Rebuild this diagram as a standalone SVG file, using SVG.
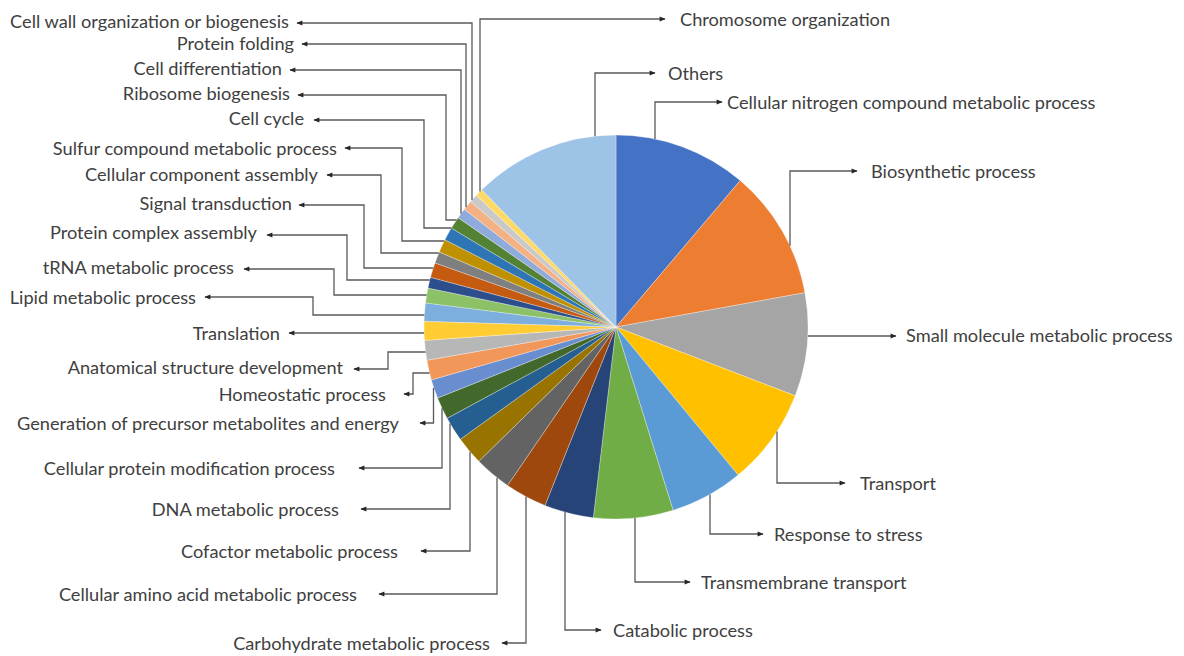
<svg xmlns="http://www.w3.org/2000/svg" width="1184" height="656" viewBox="0 0 1184 656">
<style>
.t{font-family:Lato,"Liberation Sans",sans-serif;font-size:18.2px;fill:#404040}
.l{text-anchor:end}
.s{stroke:#ffffff;stroke-width:0.5;stroke-opacity:0.6}
.c{fill:none;stroke:#595959;stroke-width:1.3;marker-end:url(#arr)}
</style>
<defs>
<marker id="arr" viewBox="0 0 10 10" refX="9" refY="5" markerWidth="7" markerHeight="6" markerUnits="userSpaceOnUse" orient="auto"><path d="M0,1 L10,5 L0,9 Z" fill="#262626"/></marker>
</defs>
<rect width="1184" height="656" fill="#ffffff"/>
<g id="pie">
<g id="n-nitrogen"><path class="s" fill="#4472C4" d="M616,327 L616,135 A192,192 0 0 1 740.2,180.6 Z"/><text class="t" x="727" y="108.5">Cellular nitrogen compound metabolic process</text></g>
<g id="n-biosynthetic"><path class="s" fill="#ED7D31" d="M616,327 L740.2,180.6 A192,192 0 0 1 804.9,292.7 Z"/><text class="t" x="871" y="177.5">Biosynthetic process</text></g>
<g id="n-smallmolecule"><path class="s" fill="#A5A5A5" d="M616,327 L804.9,292.7 A192,192 0 0 1 795.2,395.8 Z"/><text class="t" x="906" y="341.5">Small molecule metabolic process</text></g>
<g id="n-transport"><path class="s" fill="#FFC000" d="M616,327 L795.2,395.8 A192,192 0 0 1 738.1,475.1 Z"/><text class="t" x="860" y="489.5">Transport</text></g>
<g id="n-stress"><path class="s" fill="#5B9BD5" d="M616,327 L738.1,475.1 A192,192 0 0 1 673.1,510.3 Z"/><text class="t" x="774" y="540.5">Response to stress</text></g>
<g id="n-transmembrane"><path class="s" fill="#70AD47" d="M616,327 L673.1,510.3 A192,192 0 0 1 593.3,517.7 Z"/><text class="t" x="701" y="588.5">Transmembrane transport</text></g>
<g id="n-catabolic"><path class="s" fill="#264478" d="M616,327 L593.3,517.7 A192,192 0 0 1 545.0,505.4 Z"/><text class="t" x="613" y="636.5">Catabolic process</text></g>
<g id="n-carbohydrate"><path class="s" fill="#9E480E" d="M616,327 L545.0,505.4 A192,192 0 0 1 507.5,485.4 Z"/><text class="t l" x="490" y="649.5">Carbohydrate metabolic process</text></g>
<g id="n-aminoacid"><path class="s" fill="#636363" d="M616,327 L507.5,485.4 A192,192 0 0 1 478.8,461.3 Z"/><text class="t l" x="357" y="600.5">Cellular amino acid metabolic process</text></g>
<g id="n-cofactor"><path class="s" fill="#997300" d="M616,327 L478.8,461.3 A192,192 0 0 1 460.3,439.3 Z"/><text class="t l" x="398" y="557.5">Cofactor metabolic process</text></g>
<g id="n-dna"><path class="s" fill="#255E91" d="M616,327 L460.3,439.3 A192,192 0 0 1 447.1,418.3 Z"/><text class="t l" x="339" y="515.5">DNA metabolic process</text></g>
<g id="n-proteinmod"><path class="s" fill="#43682B" d="M616,327 L447.1,418.3 A192,192 0 0 1 437.6,398.0 Z"/><text class="t l" x="335" y="474.5">Cellular protein modification process</text></g>
<g id="n-generation"><path class="s" fill="#698ED0" d="M616,327 L437.6,398.0 A192,192 0 0 1 431.4,379.9 Z"/><text class="t l" x="399" y="429.5">Generation of precursor metabolites and energy</text></g>
<g id="n-homeostatic"><path class="s" fill="#F1975A" d="M616,327 L431.4,379.9 A192,192 0 0 1 426.9,360.3 Z"/><text class="t l" x="386" y="400.5">Homeostatic process</text></g>
<g id="n-anatomical"><path class="s" fill="#B7B7B7" d="M616,327 L426.9,360.3 A192,192 0 0 1 424.5,340.4 Z"/><text class="t l" x="343" y="373.5">Anatomical structure development</text></g>
<g id="n-translation"><path class="s" fill="#FFCD33" d="M616,327 L424.5,340.4 A192,192 0 0 1 424.1,321.3 Z"/><text class="t l" x="280" y="339.5">Translation</text></g>
<g id="n-lipid"><path class="s" fill="#7CAFDD" d="M616,327 L424.1,321.3 A192,192 0 0 1 425.5,302.9 Z"/><text class="t l" x="196" y="303.5">Lipid metabolic process</text></g>
<g id="n-trna"><path class="s" fill="#8CC168" d="M616,327 L425.5,302.9 A192,192 0 0 1 428.0,288.1 Z"/><text class="t l" x="234" y="273.5">tRNA metabolic process</text></g>
<g id="n-proteincomplex"><path class="s" fill="#2C4E8C" d="M616,327 L428.0,288.1 A192,192 0 0 1 430.5,277.3 Z"/><text class="t l" x="257" y="238.5">Protein complex assembly</text></g>
<g id="n-signal"><path class="s" fill="#C55A11" d="M616,327 L430.5,277.3 A192,192 0 0 1 435.0,262.9 Z"/><text class="t l" x="292" y="209.5">Signal transduction</text></g>
<g id="n-cellcomp"><path class="s" fill="#7F7F7F" d="M616,327 L435.0,262.9 A192,192 0 0 1 439.3,252.0 Z"/><text class="t l" x="318" y="180.5">Cellular component assembly</text></g>
<g id="n-sulfur"><path class="s" fill="#BF9000" d="M616,327 L439.3,252.0 A192,192 0 0 1 444.9,239.8 Z"/><text class="t l" x="337" y="154.5">Sulfur compound metabolic process</text></g>
<g id="n-cellcycle"><path class="s" fill="#2E75B6" d="M616,327 L444.9,239.8 A192,192 0 0 1 451.4,228.1 Z"/><text class="t l" x="304" y="124.5">Cell cycle</text></g>
<g id="n-ribosome"><path class="s" fill="#548235" d="M616,327 L451.4,228.1 A192,192 0 0 1 458.2,217.7 Z"/><text class="t l" x="290" y="99.5">Ribosome biogenesis</text></g>
<g id="n-celldiff"><path class="s" fill="#8FAADC" d="M616,327 L458.2,217.7 A192,192 0 0 1 464.3,209.3 Z"/><text class="t l" x="282" y="74.5">Cell differentiation</text></g>
<g id="n-folding"><path class="s" fill="#F4B183" d="M616,327 L464.3,209.3 A192,192 0 0 1 470.7,201.5 Z"/><text class="t l" x="294" y="49.5">Protein folding</text></g>
<g id="n-cellwall"><path class="s" fill="#C9C9C9" d="M616,327 L470.7,201.5 A192,192 0 0 1 476.3,195.3 Z"/><text class="t l" x="289" y="27.5">Cell wall organization or biogenesis</text></g>
<g id="n-chromosome"><path class="s" fill="#FFD966" d="M616,327 L476.3,195.3 A192,192 0 0 1 481.7,189.8 Z"/><text class="t" x="680" y="25.5">Chromosome organization</text></g>
<g id="n-others"><path class="s" fill="#9DC3E6" d="M616,327 L481.7,189.8 A192,192 0 0 1 616,135 Z"/><text class="t" x="668" y="79.5">Others</text></g>
</g>
<g id="connectors">
<path class="c" d="M472,200 V23 H297"/>
<path class="c" d="M466,207.2 V44 H302"/>
<path class="c" d="M461,213.7 V70 H290"/>
<path class="c" d="M456.6,220 H446 V95 H298"/>
<path class="c" d="M451.5,228 H424 V120 H314"/>
<path class="c" d="M444.3,241 H402 V148 H345"/>
<path class="c" d="M438.8,253 H381 V175 H327"/>
<path class="c" d="M433.3,268 H364 V205 H299"/>
<path class="c" d="M429.8,280 H347 V235 H267"/>
<path class="c" d="M426.7,295 H334 V269 H244"/>
<path class="c" d="M424.4,315 H313 V297 H205"/>
<path class="c" d="M424.1,333 H289"/>
<path class="c" d="M425.6,352 H388 V369 H354"/>
<path class="c" d="M429.6,373 H413 V394 H404"/>
<path class="c" d="M433.5,388 V423 H420"/>
<path class="c" d="M442,408.2 V468 H359"/>
<path class="c" d="M450,423.5 V509 H361"/>
<path class="c" d="M470,451.7 V551 H421"/>
<path class="c" d="M497,477.7 V594 H379"/>
<path class="c" d="M526,496.6 V643 H502"/>
<path class="c" d="M480,191.5 V19 H665"/>
<path class="c" d="M595,136.2 V73 H655"/>
<path class="c" d="M655,139 V102 H722"/>
<path class="c" d="M790,245.8 V171 H857"/>
<path class="c" d="M807.8,336 H896"/>
<path class="c" d="M777,431.6 V483 H845"/>
<path class="c" d="M710,494.4 V534 H763"/>
<path class="c" d="M635,518.1 V582 H690"/>
<path class="c" d="M565,512.1 V630 H601"/>
</g>
</svg>
